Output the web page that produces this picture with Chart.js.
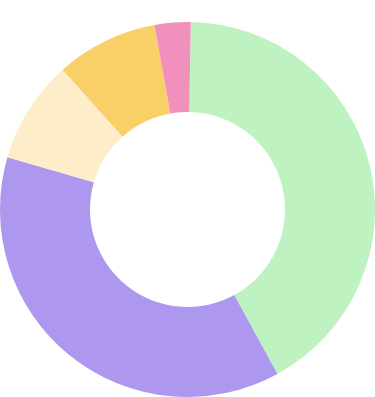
<!DOCTYPE html>
<html>
<head>
<meta charset="utf-8">
<script src="https://cdn.jsdelivr.net/npm/chart.js@4/dist/chart.umd.min.js"></script>
<style>
  html, body { margin: 0; padding: 0; background: #fff; }
  #wrap { width: 375px; height: 397px; }
</style>
</head>
<body>
<div id="wrap"><canvas id="donut"></canvas></div>
<script>
const labels = ['A', 'B', 'C', 'D', 'E'];
const values = [41.8, 37.5, 8.9, 8.8, 3.1];
const colors = ['#bff2c1', '#ad97ef', '#feedc9', '#f9cf68', '#f290bd'];

const ctx = document.getElementById('donut').getContext('2d');
new Chart(ctx, {
  type: 'doughnut',
  data: {
    labels,
    datasets: [{
      data: values,
      backgroundColor: colors,
      borderWidth: 0
    }]
  },
  options: {
    responsive: true,
    maintainAspectRatio: false,
    animation: false,
    cutout: '52%',
    rotation: 1,
    layout: { padding: { top: 22 } },
    plugins: {
      legend: { display: false },
      tooltip: { enabled: false }
    }
  }
});
</script>
</body>
</html>
